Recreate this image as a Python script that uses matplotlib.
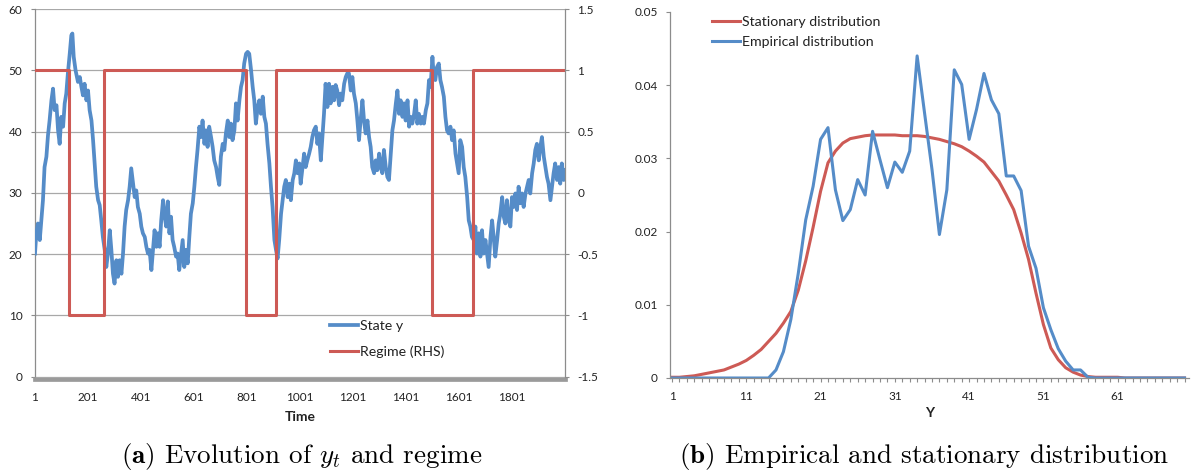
import matplotlib
matplotlib.use("Agg")
import matplotlib.pyplot as plt
from matplotlib.ticker import FixedLocator, MultipleLocator

# ---------------- data ----------------
state_t = [1, 6, 12, 19, 25, 31, 37, 44, 50, 56, 63, 69, 75, 82, 88, 94, 100, 107, 113, 119,
           125, 132, 138, 142, 147, 154, 163, 170, 176, 182, 188, 195, 201, 207, 214, 220, 226,
           232, 239, 245, 251, 257, 264, 270, 276, 283, 289, 295, 301, 308, 314, 320, 327, 333,
           339, 345, 352, 358, 364, 371, 377, 383, 389, 396, 402, 408, 415, 421, 427, 433, 440,
           446, 452, 459, 465, 471, 477, 484, 490,
           496, 502, 508, 514, 520, 526, 533, 539, 545, 552, 558, 564, 570, 577, 583, 589, 596,
           602, 608, 614, 621, 627, 633, 640, 646, 652, 658, 665, 671, 677, 684, 690, 696, 702,
           709, 715, 721, 728, 734, 740, 746, 753, 759, 765, 772, 778, 784, 790, 797, 803, 809,
           816, 822, 828, 834, 841, 847, 853, 860, 866, 872, 878, 885, 891, 897, 904, 910, 916,
           922, 929, 935, 941, 947, 954, 960, 966, 973, 979, 985, 991, 998,
           1003, 1010, 1016, 1022, 1028, 1035, 1041, 1047, 1053, 1060, 1066, 1072, 1079, 1085,
           1091, 1097, 1104, 1110, 1116, 1123, 1129, 1135, 1141, 1148, 1154, 1160, 1167, 1173,
           1179, 1185, 1192, 1198, 1204, 1211, 1217, 1223, 1229, 1236, 1242, 1248, 1255, 1261,
           1267, 1273, 1280, 1286, 1292, 1299, 1305, 1311, 1317, 1324, 1330, 1336, 1343, 1349,
           1355, 1362, 1368, 1374, 1380, 1387, 1393, 1399, 1406, 1412, 1418, 1424, 1431, 1437,
           1443, 1449, 1456, 1462, 1468, 1475, 1481, 1487, 1493, 1500,
           1505, 1511, 1517, 1524, 1530, 1536, 1543, 1549, 1555, 1561, 1568, 1574, 1580, 1587,
           1593, 1599, 1605, 1612, 1618, 1624, 1631, 1637, 1643, 1649, 1656, 1662, 1668, 1675,
           1681, 1687, 1693, 1700, 1706, 1712, 1719, 1725, 1731, 1737, 1744, 1750, 1756, 1763,
           1769, 1775, 1781, 1788, 1794, 1800, 1807, 1813, 1819, 1825, 1832, 1838, 1844, 1851,
           1857, 1863, 1869, 1876, 1882, 1888, 1894, 1901, 1907, 1913, 1920, 1926, 1932, 1938,
           1945, 1951, 1957, 1963, 1970, 1976, 1982, 1988, 1995, 2000]
state_y = [20.1, 23.4, 25.0, 22.3, 25.5, 28.8, 34.2, 35.9, 39.4, 41.8, 45.1, 47.0, 43.5, 44.3,
           40.2, 38.0, 42.4, 40.8, 44.6, 46.2, 49.5, 52.7, 55.7, 56.0, 52.2, 50.0, 48.1, 48.9,
           47.3, 45.9, 47.8, 45.1, 46.7, 43.5, 41.8, 38.6, 34.8, 31.0, 28.8, 28.0, 25.5, 22.8,
           20.7, 17.9, 20.1, 23.9, 20.7, 16.8, 15.2, 19.0, 16.3, 19.0, 16.8, 20.1, 24.5, 27.2,
           28.8, 31.0, 34.0, 31.5, 29.3, 30.4, 27.7, 26.6, 24.5, 23.4, 22.8, 21.2, 20.1, 20.7,
           17.4, 20.7, 23.9, 21.2, 23.4, 21.2, 25.5, 28.8, 26.1,
           24.5, 28.6, 23.4, 26.1, 22.3, 21.2, 19.6, 20.1, 17.4, 20.1, 22.3, 17.9, 20.7, 18.5,
           22.8, 26.6, 28.3, 31.0, 34.2, 37.0, 40.8, 39.1, 41.8, 38.0, 40.2, 37.5, 40.8, 39.1,
           37.5, 35.3, 34.2, 32.6, 31.3, 35.9, 38.0, 37.0, 39.7, 41.8, 39.1, 41.3, 38.6, 40.2,
           44.6, 41.8, 45.1, 47.3, 48.4, 51.1, 52.7, 53.0, 52.7, 50.0, 47.3, 45.1, 41.3, 44.0,
           45.1, 42.9, 45.7, 42.4, 41.3, 38.0, 34.8, 31.0, 27.7, 22.3, 20.7, 19.3, 22.3, 26.6,
           28.8, 31.0, 32.1, 29.3, 31.5, 28.8, 32.1, 33.2, 35.3, 33.2, 34.8,
           31.5, 34.2, 36.4, 34.2, 35.3, 36.4, 37.5, 39.1, 40.2, 40.8, 38.0, 39.7, 35.3, 39.1,
           42.9, 47.8, 44.0, 47.8, 44.6, 47.3, 45.1, 47.6, 46.7, 44.3, 46.2, 45.1, 47.8, 48.9,
           49.5, 49.5, 46.7, 48.9, 46.2, 44.6, 41.8, 38.6, 41.8, 45.1, 41.8, 39.7, 41.8, 39.1,
           37.5, 34.2, 33.2, 35.3, 33.7, 36.4, 34.2, 33.2, 37.0, 34.2, 32.6, 32.1, 36.4, 40.2,
           41.8, 44.6, 46.7, 42.9, 45.1, 42.4, 44.6, 41.8, 45.1, 40.8, 42.4, 41.3, 42.9, 45.1,
           41.3, 42.9, 41.3, 42.4, 41.3, 43.5, 44.6, 48.4, 47.3, 52.2,
           48.9, 48.4, 50.5, 51.1, 48.4, 47.3, 45.7, 42.4, 40.2, 39.7, 40.8, 38.6, 40.2, 36.4,
           34.8, 33.2, 38.6, 37.5, 34.2, 32.6, 29.3, 25.5, 24.5, 22.8, 22.3, 24.5, 20.1, 23.4,
           19.6, 23.9, 20.1, 22.3, 20.1, 17.9, 22.8, 25.5, 22.8, 19.6, 22.3, 25.0, 26.6, 29.3,
           26.1, 25.0, 28.8, 25.5, 24.5, 29.3, 27.7, 29.9, 27.2, 31.0, 28.3, 29.9, 27.7, 29.9,
           31.0, 32.1, 29.9, 33.2, 34.8, 37.0, 38.0, 35.3, 37.5, 39.1, 35.9, 34.2, 32.6, 31.5,
           28.8, 31.0, 33.2, 34.8, 32.1, 34.2, 31.5, 34.8, 32.1, 33.7]

regime_t = [1, 129, 262, 795, 911, 1499, 1652, 2000]
regime_val = [1, -1, 1, -1, 1, -1, 1, 1]

time_ticks = [1, 201, 401, 601, 801, 1001, 1201, 1401, 1601, 1801]

y_cat = list(range(1, 71))
stationary = [0.0001, 0.0001, 0.0002, 0.0003, 0.0005, 0.0007, 0.0009, 0.0011, 0.0015, 0.0019,
              0.0024, 0.0031, 0.0039, 0.0050, 0.0061, 0.0075, 0.0091, 0.0120, 0.0160, 0.0206,
              0.0255, 0.0294, 0.0310, 0.0321, 0.0327, 0.0329, 0.0331, 0.0332, 0.0332, 0.0332,
              0.0332, 0.0331, 0.0331, 0.0331, 0.0330, 0.0328, 0.0326, 0.0323, 0.0320, 0.0316,
              0.0310, 0.0303, 0.0295, 0.0282, 0.0269, 0.0250, 0.0230, 0.0198, 0.0162, 0.0116,
              0.0073, 0.0041, 0.0025, 0.0014, 0.0008, 0.0004, 0.0002, 0.0001, 0.0001, 0.0001,
              0.0001, 0, 0, 0, 0, 0, 0, 0, 0, 0]
empirical = [0, 0, 0, 0, 0, 0, 0, 0, 0, 0,
             0, 0, 0, 0, 0.0011, 0.0036, 0.0080, 0.0143, 0.0216, 0.0262,
             0.0326, 0.0342, 0.0257, 0.0215, 0.0230, 0.0271, 0.0250, 0.0337, 0.0298, 0.0260,
             0.0295, 0.0281, 0.0310, 0.0440, 0.0362, 0.0285, 0.0196, 0.0257, 0.0421, 0.0401,
             0.0326, 0.0367, 0.0416, 0.0380, 0.0361, 0.0276, 0.0276, 0.0256, 0.0180, 0.0150,
             0.0096, 0.0066, 0.0040, 0.0023, 0.0011, 0.0011, 0.0001, 0, 0, 0,
             0, 0, 0, 0, 0, 0, 0, 0, 0, 0]
y_ticks = [1, 11, 21, 31, 41, 51, 61]

# ---------------- style ----------------
plt.rcParams['font.family'] = ['Lato', 'DejaVu Sans']
plt.rcParams['mathtext.fontset'] = 'cm'
BLUE = '#558CC8'
RED = '#CD5A55'
AXC = '#8C8C8C'
GRID = '#A8A8A8'
TXT = '#222222'
TICK_FS = 8.5
LEG_FS = 10.2

W, H = 1192, 474
fig = plt.figure(figsize=(W / 100, H / 100), dpi=100)


def rect(x0, x1, ytop, ybot):
    return [x0 / W, 1 - ybot / H, (x1 - x0) / W, (ybot - ytop) / H]


# ---------------- left panel ----------------
ax = fig.add_axes(rect(35, 565, 9, 376.7))
ax.plot(state_t, state_y, color=BLUE, lw=2.7, solid_joinstyle='round', label='State y', zorder=3)
ax.set_xlim(1, 2000)
ax.set_ylim(0, 60)
ax.yaxis.set_major_locator(MultipleLocator(10))
ax.grid(axis='y', color=GRID, lw=0.9)
ax.set_axisbelow(True)
ax.set_xticks(time_ticks)
ax.set_xticklabels([str(t) for t in time_ticks])
ax.tick_params(axis='x', length=0, pad=9, labelsize=TICK_FS, labelcolor=TXT)
ax.tick_params(axis='y', direction='out', length=3, width=0.8, color=AXC, pad=6,
               labelsize=TICK_FS, labelcolor=TXT)
for s in ['top', 'right']:
    ax.spines[s].set_visible(False)
ax.spines['left'].set_color(AXC)
ax.spines['left'].set_linewidth(0.9)
ax.spines['bottom'].set_color('#9A9A9A')
ax.spines['bottom'].set_linewidth(3.4)
ax.spines['bottom'].set_position(('outward', 1.7))
ax.set_xlabel('Time', fontsize=10, fontweight='bold', labelpad=6, color=TXT)

ax2 = ax.twinx()
ax2.step(regime_t, regime_val, where='post', color=RED, lw=2.2, label='Regime (RHS)')
ax2.set_ylim(-1.5, 1.5)
ticks_r = [-1.5, -1, -0.5, 0, 0.5, 1, 1.5]
ax2.set_yticks(ticks_r)
ax2.set_yticklabels(['-1.5', '-1', '-0.5', '0', '0.5', '1', '1.5'])
ax2.tick_params(axis='y', direction='out', length=3, width=0.8, color=AXC, pad=6,
                labelsize=TICK_FS, labelcolor=TXT)
for s in ['top', 'left', 'bottom']:
    ax2.spines[s].set_visible(False)
ax2.spines['right'].set_color(AXC)
ax2.spines['right'].set_linewidth(0.9)

h1, l1 = ax.get_legend_handles_labels()
h2, l2 = ax2.get_legend_handles_labels()
ax2.legend(h1 + h2, l1 + l2, loc='upper left', bbox_to_anchor=(330 / W, 1 - 320 / H),
           bbox_transform=fig.transFigure, frameon=False, fontsize=LEG_FS,
           handlelength=2.0, handletextpad=0.15, labelspacing=0.95, borderpad=0,
           borderaxespad=0, labelcolor=TXT)

# ---------------- right panel ----------------
bx = fig.add_axes(rect(670, 1189, 12, 378))
bx.plot(y_cat, stationary, color=RED, lw=2.2, label='Stationary distribution')
bx.plot(y_cat, empirical, color=BLUE, lw=2.2, label='Empirical distribution')
bx.set_xlim(0.73, 70.6)
bx.set_ylim(0, 0.05)
bx.set_yticks([0, 0.01, 0.02, 0.03, 0.04, 0.05])
bx.set_yticklabels(['0', '0.01', '0.02', '0.03', '0.04', '0.05'])
bx.set_xticks(y_ticks)
bx.set_xticklabels([str(v) for v in y_ticks])
bx.xaxis.set_minor_locator(FixedLocator(y_cat))
bx.tick_params(axis='x', which='both', direction='out', length=3, width=0.8, color=AXC,
               pad=6, labelsize=TICK_FS, labelcolor=TXT)
bx.tick_params(axis='y', direction='out', length=3, width=0.8, color=AXC, pad=6,
               labelsize=TICK_FS, labelcolor=TXT)
for s in ['top', 'right']:
    bx.spines[s].set_visible(False)
for s in ['left', 'bottom']:
    bx.spines[s].set_color(AXC)
    bx.spines[s].set_linewidth(0.9)
bx.set_xlabel('Y', fontsize=10, fontweight='bold', labelpad=4, color=TXT)
bx.legend(loc='upper left', bbox_to_anchor=(712 / W, 1 - 16 / H),
          bbox_transform=fig.transFigure, frameon=False, fontsize=LEG_FS,
          handlelength=2.0, handletextpad=0.15, labelspacing=0.55, borderpad=0,
          borderaxespad=0, labelcolor=TXT)

# ---------------- captions ----------------
fig.text(302 / W, 1 - 456 / H, r'$\mathbf{(a)}$ Evolution of $y_t$ and regime',
         family='cmr10', fontsize=19.5, ha='center', va='center')
fig.text(924 / W, 1 - 456 / H, r'$\mathbf{(b)}$ Empirical and stationary distribution',
         family='cmr10', fontsize=19.5, ha='center', va='center')

fig.savefig('out.png', dpi=100)
